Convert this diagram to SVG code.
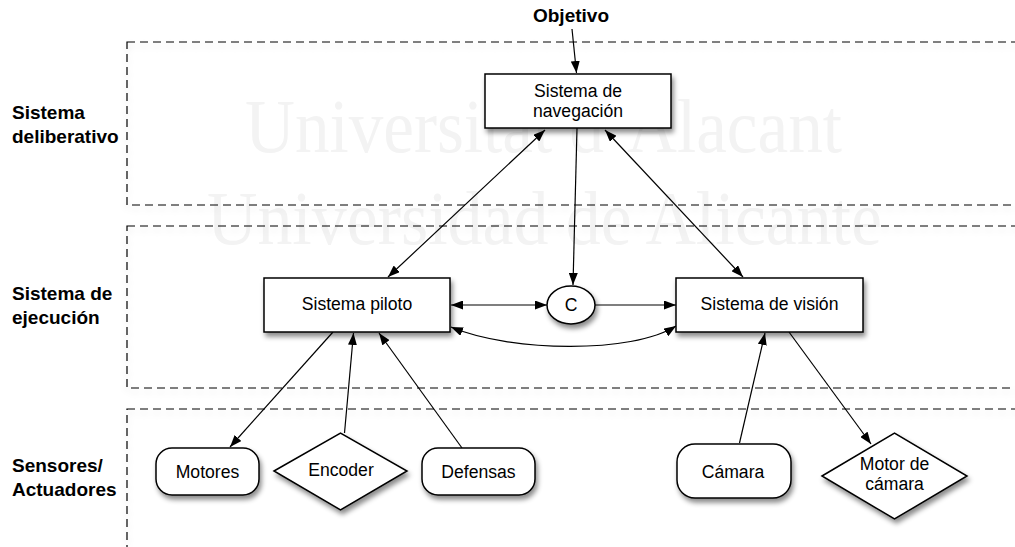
<svg xmlns="http://www.w3.org/2000/svg" width="1015" height="547" viewBox="0 0 1015 547">
  <defs>
    <filter id="shadow" x="-20%" y="-20%" width="150%" height="160%">
      <feDropShadow dx="2" dy="4" stdDeviation="2.5" flood-color="#000" flood-opacity="0.45"/>
    </filter>
    <filter id="laneShadow" x="-5%" y="-5%" width="110%" height="120%">
      <feDropShadow dx="0" dy="4" stdDeviation="3" flood-color="#000" flood-opacity="0.14"/>
    </filter>
    <marker id="arrow" viewBox="0 0 12 9" refX="12" refY="4.5" markerWidth="12" markerHeight="9" markerUnits="userSpaceOnUse" orient="auto-start-reverse">
      <path d="M0,0 L12,4.5 L0,9 z" fill="#000"/>
    </marker>
    <style>
      .lane { fill: none; stroke: #000; stroke-width: 1.2; stroke-dasharray: 8 5; }
      .node { fill: #fff; stroke: #000; stroke-width: 1.5; filter: url(#shadow); }
      .txt { font-family: "Liberation Sans", Arial, sans-serif; font-size: 17.6px; fill: #000; text-anchor: middle; }
      .lbl { font-family: "Liberation Sans", Arial, sans-serif; font-size: 19px; font-weight: bold; fill: #000; }
      .wm { font-family: "Liberation Serif", "Times New Roman", serif; font-size: 76px; fill: #f3f3f3; }
      .conn { fill: none; stroke: #000; stroke-width: 1.2; }
    </style>
  </defs>

  <rect width="1015" height="547" fill="#fff"/>

  <!-- background watermark lettering -->
  <g id="watermark">
    <text class="wm" x="245" y="152" textLength="597" lengthAdjust="spacingAndGlyphs">Universitat d’Alacant</text>
    <text class="wm" x="207" y="244" textLength="675" lengthAdjust="spacingAndGlyphs">Universidad de Alicante</text>
  </g>

  <!-- swimlanes -->
  <g id="lanes">
    <rect class="lane" x="127" y="42" width="900" height="163" filter="url(#laneShadow)"/>
    <rect class="lane" x="127" y="226" width="900" height="162" filter="url(#laneShadow)"/>
    <rect class="lane" x="127" y="409" width="900" height="160" filter="url(#laneShadow)"/>
  </g>

  <!-- lane titles -->
  <g id="lane-labels">
    <text class="lbl" x="12" y="119">Sistema</text>
    <text class="lbl" x="12" y="142.5">deliberativo</text>
    <text class="lbl" x="12" y="300">Sistema de</text>
    <text class="lbl" x="12" y="323.5">ejecución</text>
    <text class="lbl" x="12" y="472">Sensores/</text>
    <text class="lbl" x="12" y="495.5">Actuadores</text>
    <text class="lbl" x="571" y="22" text-anchor="middle">Objetivo</text>
  </g>

  <!-- connectors -->
  <g id="connectors">
    <path class="conn" d="M572,29 L576.5,73" marker-end="url(#arrow)"/>
    <path class="conn" d="M545,130 L388,277" marker-start="url(#arrow)" marker-end="url(#arrow)"/>
    <path class="conn" d="M605,130 L743,277" marker-start="url(#arrow)" marker-end="url(#arrow)"/>
    <path class="conn" d="M577,128 L573,285" marker-end="url(#arrow)"/>
    <path class="conn" d="M451,305 L547,305" marker-start="url(#arrow)" marker-end="url(#arrow)"/>
    <path class="conn" d="M595,305 L676,305" marker-end="url(#arrow)"/>
    <path class="conn" d="M451,327 C510,352 632,354 676,326" marker-start="url(#arrow)" marker-end="url(#arrow)"/>
    <path class="conn" d="M333,332 L230,447" marker-end="url(#arrow)"/>
    <path class="conn" d="M344.5,433 L353.5,333" marker-end="url(#arrow)"/>
    <path class="conn" d="M462,448 L379,333" marker-end="url(#arrow)"/>
    <path class="conn" d="M739.5,443 L765,333" marker-end="url(#arrow)"/>
    <path class="conn" d="M789,332 L871,444" marker-end="url(#arrow)"/>
  </g>

  <!-- nodes -->
  <g id="navegacion">
    <rect class="node" x="485" y="74" width="186" height="54"/>
    <text class="txt" x="578" y="96.5">Sistema de</text>
    <text class="txt" x="578" y="116.5">navegación</text>
  </g>
  <g id="piloto">
    <rect class="node" x="264" y="278" width="186" height="54"/>
    <text class="txt" x="357" y="310">Sistema piloto</text>
  </g>
  <g id="vision">
    <rect class="node" x="676" y="278" width="187" height="54"/>
    <text class="txt" x="769.5" y="310">Sistema de visión</text>
  </g>
  <g id="c">
    <ellipse class="node" cx="571" cy="305" rx="24" ry="19"/>
    <text class="txt" x="571" y="311">C</text>
  </g>
  <g id="motores">
    <rect class="node" x="156" y="448" width="103" height="47" rx="16" ry="16"/>
    <text class="txt" x="207.5" y="477.5">Motores</text>
  </g>
  <g id="encoder">
    <polygon class="node" points="274,471 340.5,433 407,471 340.5,510"/>
    <text class="txt" x="341" y="476">Encoder</text>
  </g>
  <g id="defensas">
    <rect class="node" x="422" y="448" width="113" height="47" rx="16" ry="16"/>
    <text class="txt" x="478.5" y="477.5">Defensas</text>
  </g>
  <g id="camara">
    <rect class="node" x="677" y="444" width="114" height="54" rx="18" ry="18"/>
    <text class="txt" x="733" y="477.5">Cámara</text>
  </g>
  <g id="motor-camara">
    <polygon class="node" points="822,476 894.5,433 967,476 894.5,519"/>
    <text class="txt" x="894.5" y="470">Motor de</text>
    <text class="txt" x="894.5" y="490">cámara</text>
  </g>
</svg>
